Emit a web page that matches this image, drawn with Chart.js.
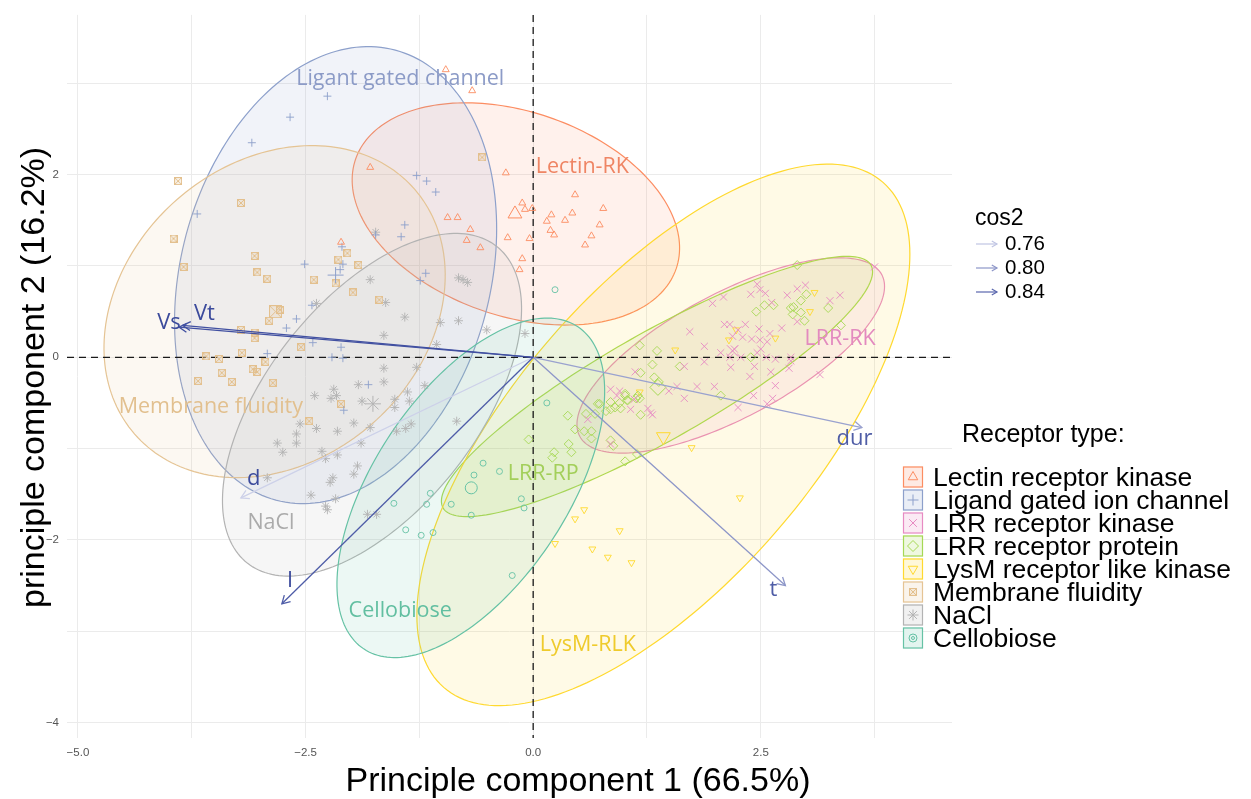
<!DOCTYPE html>
<html>
<head>
<meta charset="utf-8">
<script src="https://cdn.jsdelivr.net/npm/chart.js@4.4.1/dist/chart.umd.min.js"></script>
<style>
html,body{margin:0;padding:0;background:#fff;}
#wrap{width:1251px;height:799px;}
</style>
</head>
<body>
<div id="wrap"><canvas id="chart" width="1251" height="799"></canvas></div>
<script>
// groups (receptor type) and the short names written on the ellipses
var groups = ['Lectin receptor kinase','Ligand gated ion channel','LRR receptor kinase','LRR receptor protein',
  'LysM receptor like kinase','Membrane fluidity','NaCl','Cellobiose'];
var groupTags = ['Lectin-RK','Ligant gated channel','LRR-RK','LRR-RP','LysM-RLK','Membrane fluidity','NaCl','Cellobiose'];

// individuals, [PC1, PC2]
var lectin = [[-0.96,3.15],[-0.67,2.92],[-1.79,2.08],[-0.30,2.02],[-0.94,1.53],[-0.83,1.53],[-0.69,1.40],[-0.73,1.28],
  [-0.58,1.20],[-0.28,1.31],[-0.12,1.69],[-0.09,1.62],[-0.01,1.63],[-0.04,1.30],[-0.12,1.08],[-0.15,0.96],[0.46,1.78],
  [0.20,1.56],[0.15,1.49],[0.43,1.58],[0.35,1.50],[0.19,1.39],[0.23,1.34],[0.77,1.63],[0.73,1.45],[0.64,1.33],[0.57,1.23],
  [-2.11,1.26]];
var ligand = [[-2.26,2.86],[-2.67,2.63],[-3.09,2.35],[-3.69,1.57],[-1.28,1.99],[-1.17,1.93],[-1.07,1.81],[-1.41,1.45],
  [-1.45,1.32],[-1.73,1.34],[-2.10,1.21],[-2.09,1.02],[-2.12,0.96],[-2.51,1.02],[-2.43,0.57],[-2.60,0.42],[-2.71,0.32],
  [-2.42,0.16],[-2.11,0.11],[-2.21,0.00],[-2.09,-0.01],[-2.92,0.04],[-1.18,0.92],[-1.24,0.84],[-1.81,-0.30],[-2.08,-0.58]];
var lrrRk = [[3.75,0.99],[2.46,0.80],[2.49,0.74],[2.39,0.69],[2.55,0.70],[2.90,0.75],[2.99,0.79],[2.79,0.68],[2.62,0.60],
  [3.37,0.68],[3.26,0.62],[1.97,0.59],[2.09,0.66],[2.90,0.39],[1.72,0.28],[2.10,0.36],[2.16,0.36],[2.33,0.36],[2.25,0.30],
  [2.48,0.31],[2.73,0.32],[2.60,0.26],[2.19,0.23],[2.30,0.22],[2.40,0.20],[2.49,0.19],[2.57,0.17],[1.88,0.12],[2.06,0.05],
  [2.21,0.09],[2.16,0.00],[2.28,0.00],[2.46,0.05],[2.50,0.09],[2.56,0.00],[2.66,-0.02],[2.83,-0.04],[2.83,0.00],[2.43,-0.10],
  [2.17,-0.11],[1.88,-0.05],[1.66,-0.10],[2.81,-0.12],[2.61,-0.16],[3.15,-0.19],[2.38,-0.21],[1.12,-0.16],[2.66,-0.31],
  [1.99,-0.32],[1.80,-0.32],[1.58,-0.32],[1.49,-0.37],[1.66,-0.45],[2.42,-0.42],[2.63,-0.45],[2.25,-0.55],[2.57,-0.51],
  [0.85,-0.35],[0.95,-0.37],[0.92,-0.42],[1.11,-0.46],[1.26,-0.56],[1.29,-0.61],[1.31,-0.63],[1.07,-0.57],[0.60,-0.68],
  [0.85,-0.95]];
var lrrRp = [[2.90,1.01],[3.00,0.69],[2.94,0.62],[2.83,0.54],[2.86,0.55],[2.85,0.47],[2.94,0.49],[2.98,0.40],[3.24,0.54],
  [3.38,0.35],[2.64,0.57],[2.54,0.57],[2.45,0.50],[1.17,0.13],[1.36,0.07],[1.31,-0.08],[1.18,-0.17],[1.61,-0.10],
  [1.33,-0.22],[1.38,-0.27],[2.39,0.00],[2.06,-0.42],[1.01,-0.42],[1.03,-0.47],[0.85,-0.49],[0.90,-0.55],[0.96,-0.56],
  [0.85,-0.57],[0.73,-0.51],[1.15,-0.42],[1.17,-0.45],[1.18,-0.63],[0.68,-0.62],[0.38,-0.64],[0.46,-0.79],[0.56,-0.81],
  [0.64,-0.81],[0.39,-0.95],[0.85,-0.91],[0.64,-0.89],[0.42,-1.04],[0.23,-1.04],[0.21,-1.10],[-0.05,-0.90],[0.88,-0.97],
  [1.01,-1.14],[1.14,-1.06],[0.58,-0.62],[0.71,-0.51],[0.95,-0.50],[1.01,-0.40],[1.04,-0.47],[1.13,-0.45],[0.80,-0.59]];
var lysm = [[3.09,0.71],[3.04,0.50],[2.23,0.30],[2.15,0.19],[2.66,0.21],[1.56,0.08],[1.17,-0.38],[1.74,-0.99],[2.27,-1.54],
  [0.56,-1.67],[0.46,-1.77],[0.24,-2.04],[0.95,-1.90],[0.65,-2.10],[0.82,-2.19],[1.08,-2.25]];
var membrane = [[-3.90,1.93],[-3.21,1.69],[-3.95,1.30],[-3.06,1.11],[-3.84,0.99],[-3.03,0.93],[-2.92,0.86],[-2.41,0.85],
  [-2.14,1.07],[-2.04,1.14],[-1.92,1.01],[-2.17,0.81],[-1.98,0.71],[-1.69,0.63],[-2.78,0.52],[-2.90,0.40],[-3.21,0.30],
  [-3.06,0.27],[-3.06,0.21],[-3.20,0.05],[-2.55,0.11],[-3.59,0.01],[-3.45,-0.02],[-2.94,-0.05],[-3.08,-0.13],[-3.03,-0.16],
  [-3.68,-0.26],[-3.42,-0.17],[-3.31,-0.27],[-2.86,-0.28],[-2.11,-0.51],[-2.46,-0.70],[-0.56,2.19]];
var nacl = [[-1.73,1.37],[-1.79,0.85],[-2.38,0.59],[-1.62,0.60],[-0.82,0.87],[-0.77,0.85],[-0.72,0.82],[-1.41,0.44],
  [-1.64,0.24],[-0.82,0.40],[-1.02,0.38],[-0.51,0.30],[-0.09,0.26],[-1.06,0.14],[-1.64,-0.12],[-1.28,-0.11],[-1.64,-0.27],
  [-1.92,-0.30],[-1.19,-0.31],[-2.19,-0.35],[-2.16,-0.42],[-2.22,-0.45],[-2.40,-0.42],[-1.88,-0.48],[-1.52,-0.46],
  [-1.38,-0.38],[-1.36,-0.48],[-1.52,-0.55],[-0.84,-0.70],[-2.56,-0.73],[-1.97,-0.72],[-2.38,-0.78],[-2.15,-0.81],
  [-2.60,-0.84],[-2.60,-0.94],[-1.79,-0.77],[-1.50,-0.81],[-1.40,-0.78],[-1.34,-0.73],[-2.81,-0.94],[-2.75,-1.04],
  [-1.89,-0.94],[-2.32,-1.03],[-2.28,-1.11],[-2.15,-1.07],[-1.93,-1.19],[-1.97,-1.28],[-2.20,-1.32],[-2.23,-1.37],
  [-2.92,-1.32],[-2.44,-1.51],[-2.17,-1.55],[-2.28,-1.63],[-2.26,-1.67],[-1.82,-1.72],[-1.72,-1.72]];
var cellobiose = [[0.24,0.74],[0.15,-0.50],[-0.55,-1.16],[-0.37,-1.25],[-0.65,-1.29],[-0.90,-1.61],[-1.13,-1.49],
  [-1.17,-1.61],[-1.53,-1.60],[-0.68,-1.73],[-0.13,-1.55],[-0.10,-1.65],[-1.40,-1.89],[-1.23,-1.95],[-1.10,-1.92],
  [-0.23,-2.39]];

// group means
var meanX = [-0.20,-2.17,2.19,1.37,1.43,-2.83,-1.76,-0.68];
var meanY = [1.57,0.90,0.07,-0.33,-0.87,0.50,-0.51,-1.43];

// concentration ellipses: centre, semi-axes, angle of major axis (deg)
var ellCx = [-0.19,-2.17,2.17,1.36,1.43,-2.84,-1.77,-0.685];
var ellCy = [1.57,0.90,0.02,-0.32,-0.85,0.50,-0.52,-1.43];
var ellA = [1.86,2.55,1.88,2.70,3.67,2.04,2.21,2.12];
var ellB = [1.12,1.70,0.68,0.59,1.63,1.63,1.155,1.06];
var ellAngle = [-18.7,75.1,28.1,29.5,48.9,41.1,51.7,56.3];
var tagX = [0.54,-1.46,3.37,0.11,0.60,-3.54,-2.88,-1.46];
var tagY = [2.09,3.05,0.20,-1.28,-3.15,-0.54,-1.81,-2.78];

// variables
var varNames = ['d','dur','t','Vt','l','Vs'];
var varX = [-3.21,3.61,2.77,-3.85,-2.76,-3.89];
var varY = [-1.54,-0.77,-2.50,0.35,-2.70,0.33];
var varCos2 = [0.75,0.79,0.80,0.86,0.85,0.86];
var varTextX = [-3.07,3.53,2.64,-3.61,-2.67,-4.0];
var varTextY = [-1.33,-0.89,-2.55,0.48,-2.45,0.38];
var cos2Breaks = [0.76,0.80,0.84];

var xGrid = [-5,-3.75,-2.5,-1.25,0,1.25,2.5,3.75];
var xTickText = ['\u22125.0','','\u22122.5','','0.0','','2.5',''];
var yGrid = [-4,-3,-2,-1,0,1,2,3];
var yTickText = ['\u22124','','\u22122','','0','','2',''];

var colors = ['#FC8D62','#8DA0CB','#E78AC3','#A6D854','#FFD92F','#E5C494','#B3B3B3','#66C2A5'];
var tagColors = ['#EF8564','#8C9BC7','#E38ABF','#A3CF5A','#EFCB2C','#E2C08F','#ABABAB','#62BFA1'];
var shapes = ['triangle','cross','crossRot','rectRot','triangle','box','star','circle'];
var rot = [0,0,0,0,180,0,0,0];
var rad = [4,4,5,4.5,4,0,4.5,3];
var bigRad = [8,8,8,8,8,0,8,6];
var varTextColors = ['#3C4B9C','#4F5DA6','#4F5DA6','#3C4B9C','#3C4B9C','#3C4B9C'];
var FONT = '"Liberation Sans", Helvetica, Arial, sans-serif';

function rgba(hex, a) {
  var n = parseInt(hex.slice(1), 16);
  return 'rgba(' + (n >> 16) + ',' + ((n >> 8) & 255) + ',' + (n & 255) + ',' + a + ')';
}
function cos2Color(v) {
  var t = Math.max(0, Math.min(1, (v - 0.74) / 0.13));
  var lo = [218,221,240], hi = [52,68,154];
  return 'rgb(' + lo.map(function(c, k){ return Math.round(c + (hi[k] - c) * t); }).join(',') + ')';
}
function boxCross(size, color) {
  var c = document.createElement('canvas');
  c.width = size; c.height = size;
  var g = c.getContext('2d');
  g.fillStyle = rgba(color, 0.2); g.fillRect(0, 0, size, size);
  g.strokeStyle = color; g.lineWidth = 1;
  g.strokeRect(0.5, 0.5, size - 1, size - 1);
  g.beginPath(); g.moveTo(1, 1); g.lineTo(size - 1, size - 1); g.moveTo(size - 1, 1); g.lineTo(1, size - 1); g.stroke();
  return c;
}
var boxSmall = boxCross(8, '#E3C08E');
var boxBig = boxCross(13, '#E3C08E');

var groupPts = [lectin, ligand, lrrRk, lrrRp, lysm, membrane, nacl, cellobiose];
var datasets = [];
groupPts.forEach(function(pts, i) {
  datasets.push({
    label: groups[i],
    data: pts.map(function(p){ return {x: p[0], y: p[1]}; }),
    pointStyle: i === 5 ? boxSmall : shapes[i],
    pointRadius: i === 5 ? 4 : rad[i],
    pointRotation: rot[i],
    pointBorderColor: rgba(colors[i], 0.9),
    pointBackgroundColor: 'rgba(0,0,0,0)',
    pointBorderWidth: 1
  });
  datasets.push({
    label: groups[i] + ' mean',
    data: [{x: meanX[i], y: meanY[i]}],
    pointStyle: i === 5 ? boxBig : shapes[i],
    pointRadius: i === 5 ? 7 : bigRad[i],
    pointRotation: rot[i],
    pointBorderColor: colors[i],
    pointBackgroundColor: 'rgba(0,0,0,0)',
    pointBorderWidth: 1
  });
});

function drawSymbol(ctx, i, x, y, r) {
  if (i === 5) { ctx.drawImage(boxSmall, x - 4, y - 4); return; }
  ctx.save();
  ctx.strokeStyle = colors[i];
  ctx.fillStyle = 'rgba(0,0,0,0)';
  ctx.lineWidth = 1;
  Chart.helpers.drawPoint(ctx, {pointStyle: shapes[i], rotation: rot[i], radius: r, borderWidth: 1}, x, y);
  if (i === 7) Chart.helpers.drawPoint(ctx, {pointStyle: 'circle', rotation: 0, radius: 1.5, borderWidth: 1}, x, y);
  ctx.restore();
}

function arrow(ctx, x0, y0, x1, y1, color, lw, head) {
  ctx.strokeStyle = color; ctx.lineWidth = lw;
  ctx.beginPath(); ctx.moveTo(x0, y0); ctx.lineTo(x1, y1); ctx.stroke();
  var a = Math.atan2(y1 - y0, x1 - x0);
  ctx.beginPath();
  ctx.moveTo(x1 - head * Math.cos(a - 0.52), y1 - head * Math.sin(a - 0.52));
  ctx.lineTo(x1, y1);
  ctx.lineTo(x1 - head * Math.cos(a + 0.52), y1 - head * Math.sin(a + 0.52));
  ctx.stroke();
}

var biplot = {
  id: 'biplot',
  beforeDatasetsDraw: function(chart) {
    var ctx = chart.ctx, xs = chart.scales.x, ys = chart.scales.y, ca = chart.chartArea;
    ctx.save();
    ctx.beginPath(); ctx.rect(ca.left, ca.top, ca.right - ca.left, ca.bottom - ca.top); ctx.clip();
    for (var i = 0; i < groups.length; i++) {
      var phi = ellAngle[i] * Math.PI / 180;
      ctx.beginPath();
      for (var k = 0; k <= 200; k++) {
        var t = k / 200 * 2 * Math.PI;
        var ex = ellCx[i] + ellA[i] * Math.cos(t) * Math.cos(phi) - ellB[i] * Math.sin(t) * Math.sin(phi);
        var ey = ellCy[i] + ellA[i] * Math.cos(t) * Math.sin(phi) + ellB[i] * Math.sin(t) * Math.cos(phi);
        var px = xs.getPixelForValue(ex), py = ys.getPixelForValue(ey);
        if (k === 0) ctx.moveTo(px, py); else ctx.lineTo(px, py);
      }
      ctx.closePath();
      ctx.fillStyle = rgba(colors[i], 0.12);
      ctx.fill();
      ctx.strokeStyle = colors[i];
      ctx.lineWidth = 1.2;
      ctx.stroke();
    }
    var x0 = xs.getPixelForValue(0), y0 = ys.getPixelForValue(0);
    ctx.setLineDash([7, 5]);
    ctx.strokeStyle = '#1a1a1a';
    ctx.lineWidth = 1.3;
    ctx.beginPath();
    ctx.moveTo(x0, ca.top); ctx.lineTo(x0, ca.bottom);
    ctx.moveTo(ca.left, y0); ctx.lineTo(ca.right, y0);
    ctx.stroke();
    ctx.restore();
  },
  afterDatasetsDraw: function(chart) {
    var ctx = chart.ctx, xs = chart.scales.x, ys = chart.scales.y, ca = chart.chartArea;
    var x0 = xs.getPixelForValue(0), y0 = ys.getPixelForValue(0);
    ctx.save();
    // variable arrows
    for (var v = 0; v < varNames.length; v++) {
      arrow(ctx, x0, y0, xs.getPixelForValue(varX[v]), ys.getPixelForValue(varY[v]), cos2Color(varCos2[v]), 1.3, 9);
    }
    ctx.font = '22px "Open Sans", sans-serif';
    ctx.textAlign = 'center';
    ctx.textBaseline = 'middle';
    for (v = 0; v < varNames.length; v++) {
      ctx.fillStyle = varTextColors[v];
      ctx.fillText(varNames[v], xs.getPixelForValue(varTextX[v]), ys.getPixelForValue(varTextY[v]));
    }
    // ellipse tags
    ctx.font = '21.5px "Open Sans", sans-serif';
    for (var i = 0; i < groups.length; i++) {
      ctx.fillStyle = tagColors[i];
      ctx.fillText(groupTags[i], xs.getPixelForValue(tagX[i]), ys.getPixelForValue(tagY[i]));
    }
    // axis titles
    ctx.fillStyle = '#000';
    ctx.font = '34px ' + FONT;
    ctx.textBaseline = 'alphabetic';
    ctx.fillText('Principle component 1 (66.5%)', 578, 791);
    ctx.save();
    ctx.translate(44, (ca.top + ca.bottom) / 2 + 1);
    ctx.rotate(-Math.PI / 2);
    ctx.fillText('principle component 2 (16.2%)', 0, 0);
    ctx.restore();

    // cos2 legend
    ctx.textAlign = 'left';
    ctx.font = '23px ' + FONT;
    ctx.fillText('cos2', 975, 225);
    ctx.font = '20.5px ' + FONT;
    for (var b = 0; b < cos2Breaks.length; b++) {
      var by = 250 + b * 24;
      arrow(ctx, 976, by - 6, 997, by - 6, cos2Color(cos2Breaks[b]), 1.2, 6);
      ctx.fillStyle = '#000';
      ctx.fillText(cos2Breaks[b].toFixed(2), 1005, by);
    }

    // receptor legend
    ctx.font = '25px ' + FONT;
    ctx.fillText('Receptor type:', 962, 442);
    ctx.font = '26.5px ' + FONT;
    for (i = 0; i < groups.length; i++) {
      var cy = 477 + i * 23;
      ctx.fillStyle = '#fff';
      ctx.fillRect(903, cy - 10.5, 20, 21);
      ctx.fillStyle = rgba(colors[i], 0.18);
      ctx.fillRect(903, cy - 10.5, 20, 21);
      ctx.strokeStyle = colors[i];
      ctx.lineWidth = 1.2;
      ctx.strokeRect(903.5, cy - 10, 19, 20);
      drawSymbol(ctx, i, 913, cy, i === 7 ? 4 : 5.5);
      ctx.fillStyle = '#000';
      ctx.fillText(groups[i], 933, cy + 9);
    }
    ctx.restore();
  }
};

new Chart(document.getElementById('chart').getContext('2d'), {
  type: 'scatter',
  data: {datasets: datasets},
  options: {
    responsive: false,
    animation: false,
    events: [],
    layout: {padding: {left: 0, top: 13, right: 299, bottom: 31}},
    plugins: {legend: {display: false}, tooltip: {enabled: false}},
    scales: {
      x: {
        type: 'linear', min: -5.12, max: 4.6,
        afterFit: function(s){ s.height = 30; },
        afterBuildTicks: function(s){ s.ticks = xGrid.map(function(v){ return {value: v}; }); },
        grid: {color: '#EBEBEB', lineWidth: 1, drawTicks: false},
        border: {display: false},
        ticks: {
          autoSkip: false, maxRotation: 0, padding: 8, color: '#555',
          font: {family: FONT, size: 11.5},
          callback: function(val, idx){ return xTickText[xGrid.indexOf(val)] || ''; }
        }
      },
      y: {
        type: 'linear', min: -4.17, max: 3.75,
        afterFit: function(s){ s.width = 67; },
        afterBuildTicks: function(s){ s.ticks = yGrid.map(function(v){ return {value: v}; }); },
        grid: {color: '#EBEBEB', lineWidth: 1, drawTicks: false},
        border: {display: false},
        ticks: {
          autoSkip: false, padding: 8, color: '#555',
          font: {family: FONT, size: 11.5},
          callback: function(val, idx){ return yTickText[yGrid.indexOf(val)] || ''; }
        }
      }
    }
  },
  plugins: [biplot]
});
</script>
</body>
</html>
